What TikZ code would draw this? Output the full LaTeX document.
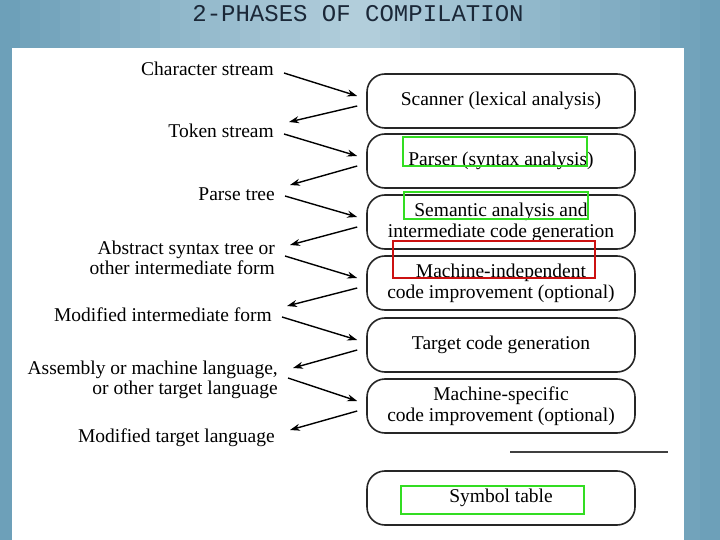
\documentclass[tikz,border=0pt]{standalone}
\usepackage{fontspec}
\setmainfont{Liberation Serif}
\newfontfamily\titlefont{Liberation Mono}
\usetikzlibrary{arrows.meta,calc}

\definecolor{bgedge}{HTML}{6C9FB8}
\definecolor{bgmid}{HTML}{B4CFDC}
\definecolor{titleink}{HTML}{1B2838}
\definecolor{hlgreen}{HTML}{33DD22}
\definecolor{hlred}{HTML}{CC1111}

\tikzset{
  phase/.style={draw=black!85, line width=1.6pt, rounded corners=18pt,
    minimum width=268pt, minimum height=54pt, align=center,
    font=\fontsize{19.5}{21}\selectfont},
  stream/.style={anchor=east, inner sep=0pt, align=right,
    font=\fontsize{19.5}{20.5}\selectfont},
  flow/.style={line width=1.4pt, -{Stealth[length=10pt,width=7pt]}},
  mark green/.style={draw=hlgreen, line width=2.6pt},
  mark red/.style={draw=hlred, line width=2.6pt}
}

\begin{document}
\begin{tikzpicture}[x=1pt, y=-1pt]
  \useasboundingbox (0,0) rectangle (720,540);

  % background in strips, lighter in the middle, then the white panel
  \foreach \i in {0,...,35} {
    \pgfmathtruncatemacro\pct{100-abs(\i*20+10-360)/3.6}
    \fill[bgmid!\pct!bgedge] (\i*20,0) rectangle (\i*20+20.5,540);
  }
  \fill[white] (12,48) rectangle (684,540);
  \node[font=\titlefont\fontsize{24}{26}\selectfont, text=titleink] (title) at (358,14) {2-PHASES OF COMPILATION};

  % the phases
  \node[phase] (scanner)  at (501,101) {Scanner (lexical analysis)};
  \node[phase] (parser)   at (501,161) {Parser (syntax analysis)};
  \node[phase] (semantic) at (501,222) {Semantic analysis and\\intermediate code generation};
  \node[phase] (machind)  at (501,283) {Machine-independent\\code improvement (optional)};
  \node[phase] (target)   at (501,345) {Target code generation};
  \node[phase] (machspec) at (501,406) {Machine-specific\\code improvement (optional)};
  \node[phase] (symtab)   at (501,498) {Symbol table};

  % separator
  \draw[line width=1.6pt, black!75] (510,452) -- (668,452);

  % what flows between the phases
  \node[stream] (charstr)   at (274,69)  {Character stream};
  \node[stream] (tokstr)    at (274,131) {Token stream};
  \node[stream] (parsetree) at (275,194) {Parse tree};
  \node[stream] (ast)       at (275,258) {Abstract syntax tree or\\other intermediate form};
  \node[stream] (modinter)  at (272,315) {Modified intermediate form};
  \node[stream] (asm)       at (278,380) {Assembly or machine language,\\or other target language};
  \node[stream] (modtarget) at (275,438) {Modified target language};

  % arrows into the phases
  \foreach \lbl/\ph/\dy in {charstr/scanner/4, tokstr/parser/3, parsetree/semantic/2,
      ast/machind/-2, modinter/target/2, asm/machspec/-2}
    \draw[flow] ($(\lbl.east)+(10,\dy)$) -- ($(\ph.west)+(-9,-5)$);

  % arrows out of the phases
  \foreach \ph/\lbl/\dy in {scanner/tokstr/-9, parser/parsetree/-9, semantic/ast/-13,
      machind/modinter/-9, target/asm/-12, machspec/modtarget/-8}
    \draw[flow] ($(\ph.west)+(-9,5)$) -- ($(\lbl.east)+(15,\dy)$);

  % highlights
  \draw[mark green] (403,137) rectangle (587,166);
  \draw[mark green] (404,192) rectangle (588,219);
  \draw[mark red]   (393,241) rectangle (595,278);
  \draw[mark green] (401,486) rectangle (584,514);
\end{tikzpicture}
\end{document}
